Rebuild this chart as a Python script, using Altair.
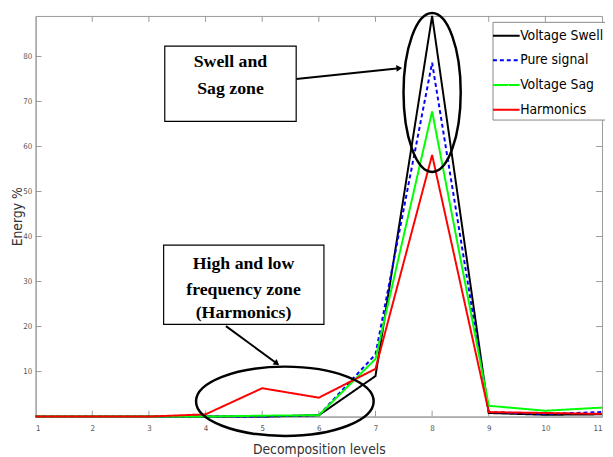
import altair as alt
import pandas as pd

levels = [1, 2, 3, 4, 5, 6, 7, 8, 9, 10, 11]
voltage_swell = [0, 0, 0, 0, 0, 0.3, 9.0, 89.0, 0.8, 0.4, 0.5]
pure_signal = [0, 0, 0, 0, 0, 0.3, 13.8, 78.6, 1.0, 0.6, 1.0]
voltage_sag = [0, 0, 0, 0, 0.2, 0.3, 12.8, 67.8, 2.4, 1.3, 2.0]
harmonics = [0, 0, 0, 0.5, 6.3, 4.2, 10.6, 58.1, 1.0, 0.8, 0.6]

series_names = ["Voltage Swell", "Pure signal", "Voltage Sag", "Harmonics"]
series_colors = ["#000000", "#0000ff", "#00ff00", "#ff0000"]
series_dash = [[1, 0], [4, 3], [1, 0], [1, 0]]

x_ticks = [1, 2, 3, 4, 5, 6, 7, 8, 9, 10, 11]
y_ticks = [10, 20, 30, 40, 50, 60, 70, 80]

# annotation boxes (data coordinates)
box_x = [3.28, 3.26]
box_x2 = [5.60, 6.09]
box_y = [82.3, 38.1]
box_y2 = [65.6, 20.5]
label_lines = ["Swell and", "Sag zone", "High and low", "frequency zone", "(Harmonics)"]
label_x = [4.44, 4.44, 4.67, 4.67, 4.67]
label_y = [78.8, 72.8, 33.9, 28.2, 23.0]

arrow_x = [5.60, 4.36]
arrow_x2 = [7.42, 5.26]
arrow_y = [75.0, 20.1]
arrow_y2 = [77.4, 11.8]
arrow_angle = [85, 127]

ellipse_x = [8.0, 5.40]
ellipse_y = [72.0, 3.4]
ellipse_shape = [
    "M -0.36,0 A 0.36,1 0 1,1 0.36,0 A 0.36,1 0 1,1 -0.36,0 Z",
    "M -1,0 A 1,0.39 0 1,1 1,0 A 1,0.39 0 1,1 -1,0 Z",
]
ellipse_size = [25921, 32400]

W, H = 574, 406
NARROW = "Liberation Sans Narrow, DejaVu Sans Condensed, Arial Narrow, Liberation Sans, sans-serif"

rows = []
for name, vals in zip(series_names, [voltage_swell, pure_signal, voltage_sag, harmonics]):
    for lv, v in zip(levels, vals):
        rows.append({"level": lv, "energy": v, "series": name})
df = pd.DataFrame(rows)

xs = alt.Scale(domain=[1, 11], nice=False)
ys = alt.Scale(domain=[0, 89], nice=False)

lines = alt.Chart(df).mark_line(strokeWidth=2).encode(
    x=alt.X("level:Q", scale=xs,
            axis=alt.Axis(values=x_ticks, title="Decomposition levels", ticks=False,
                          labelPadding=8, grid=False, format="d", titlePadding=10)),
    y=alt.Y("energy:Q", scale=ys,
            axis=alt.Axis(values=y_ticks, title="Energy %", grid=False, ticks=False,
                          labelPadding=4, titleX=-14, titleY=203, titleAngle=-90,
                          titleBaseline="alphabetic", titleAlign="center")),
    color=alt.Color("series:N", scale=alt.Scale(domain=series_names, range=series_colors),
                    sort=series_names, legend=alt.Legend(title=None)),
    strokeDash=alt.StrokeDash("series:N", scale=alt.Scale(domain=series_names, range=series_dash),
                              sort=series_names, legend=alt.Legend(title=None)),
    order=alt.Order("ord:Q"),
).transform_calculate(
    ord="indexof(['Voltage Swell','Pure signal','Voltage Sag','Harmonics'], datum.series)"
)

tick_df = pd.DataFrame({"t": x_ticks[1:-1]})
bottom_ticks = alt.Chart(tick_df).mark_rule(color="#999999", strokeWidth=1).encode(
    x=alt.X("t:Q", scale=xs), y=alt.value(H), y2=alt.value(H - 6))
top_ticks = alt.Chart(tick_df).mark_rule(color="#999999", strokeWidth=1).encode(
    x=alt.X("t:Q", scale=xs), y=alt.value(0), y2=alt.value(6))
ytick_df = pd.DataFrame({"t": y_ticks})
right_ticks = alt.Chart(ytick_df).mark_rule(color="#999999", strokeWidth=1).encode(
    y=alt.Y("t:Q", scale=ys), x=alt.value(W), x2=alt.value(W - 6))
left_ticks = alt.Chart(ytick_df).mark_rule(color="#999999", strokeWidth=1).encode(
    y=alt.Y("t:Q", scale=ys), x=alt.value(0), x2=alt.value(6))

ell_df = pd.DataFrame({"x": ellipse_x, "y": ellipse_y, "shape": ellipse_shape, "size": ellipse_size})
ellipses = alt.Chart(ell_df).mark_point(filled=False, color="black", strokeWidth=2.5, opacity=1).encode(
    x=alt.X("x:Q", scale=xs), y=alt.Y("y:Q", scale=ys),
    shape=alt.Shape("shape:N", scale=None),
    size=alt.Size("size:Q", scale=None))

box_df = pd.DataFrame({"x": box_x, "x2": box_x2, "y": box_y, "y2": box_y2})
boxes = alt.Chart(box_df).mark_rect(fill="white", stroke="black", strokeWidth=1.2).encode(
    x=alt.X("x:Q", scale=xs), x2="x2:Q", y=alt.Y("y:Q", scale=ys), y2="y2:Q")

lab_df = pd.DataFrame({"x": label_x, "y": label_y, "text": label_lines})
labels = alt.Chart(lab_df).mark_text(font="Liberation Serif", fontWeight="bold", fontSize=18,
                                     color="black").encode(
    x=alt.X("x:Q", scale=xs), y=alt.Y("y:Q", scale=ys), text="text:N")

arr_df = pd.DataFrame({"x": arrow_x, "x2": arrow_x2, "y": arrow_y, "y2": arrow_y2, "a": arrow_angle})
arrow_lines = alt.Chart(arr_df).mark_rule(color="black", strokeWidth=2).encode(
    x=alt.X("x:Q", scale=xs), x2="x2:Q", y=alt.Y("y:Q", scale=ys), y2="y2:Q")
arrow_heads = alt.Chart(arr_df).mark_point(shape="triangle-up", filled=True, color="black",
                                           size=45, opacity=1).encode(
    x=alt.X("x2:Q", scale=xs), y=alt.Y("y2:Q", scale=ys),
    angle=alt.Angle("a:Q", scale=None))

chart = alt.layer(
    bottom_ticks, top_ticks, right_ticks, left_ticks, lines, ellipses, arrow_lines, arrow_heads,
    boxes, labels
).properties(
    width=W, height=H,
    autosize=alt.AutoSizeParams(type="none"),
    padding={"left": 28, "top": 5, "right": 3, "bottom": 45},
).configure_view(
    stroke="#999999", strokeWidth=1
).configure_axis(
    domainColor="#999999", tickColor="#999999", labelColor="#555555",
    labelFont=NARROW, labelFontSize=8,
    titleFont=NARROW, titleFontSize=14, titleColor="#333333", titleFontWeight="normal",
).configure_legend(
    orient="none", legendX=463, legendY=6,
    fillColor="white", strokeColor="#888888", padding=3,
    symbolType="M-1.35,0L1.35,0", symbolSize=400, symbolStrokeWidth=2,
    labelFont=NARROW, labelFontSize=14, labelColor="black",
    rowPadding=7, labelOffset=3,
)

chart.save("out.html", embed_options={"renderer": "svg", "actions": False})
